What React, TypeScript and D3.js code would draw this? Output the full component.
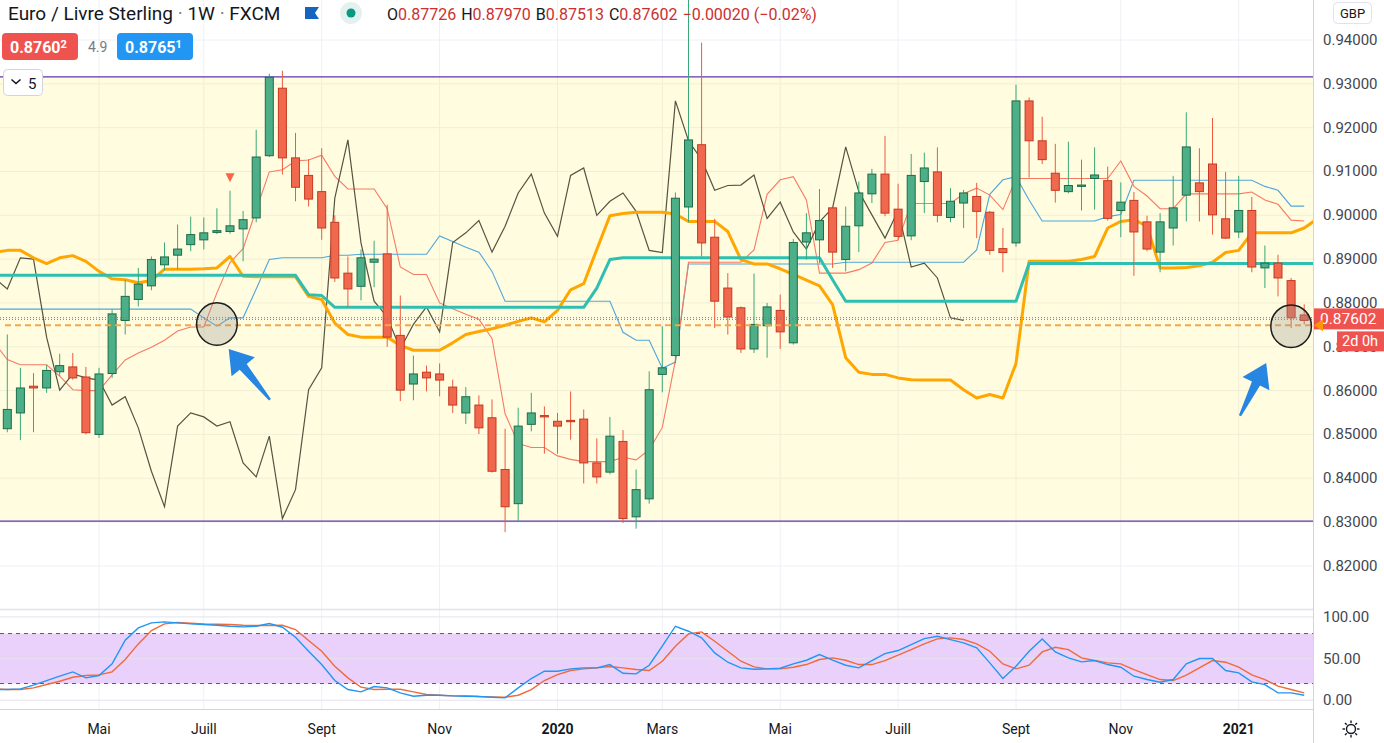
import React from "react";
import * as d3 from "d3";

// EUR/GBP weekly, FXCM.
const W = 1384;
const H = 743;
const PLOT_R = 1313;
const MAIN_BOTTOM = 609;
const SUB_TOP = 610;
const SUB_BOTTOM = 709;

const startDate = new Date(Date.UTC(2019, 2, 18)); // first visible weekly bar (Monday)

const opens = [
  0.8513, 0.8549, 0.861, 0.8606, 0.8643, 0.8654, 0.8631, 0.85, 0.8639, 0.876,
  0.8808, 0.8839, 0.8887, 0.8909, 0.8933, 0.8944, 0.8961, 0.8963, 0.8969, 0.8994,
  0.9136, 0.929, 0.9131, 0.9091, 0.9054, 0.8984, 0.8868, 0.8838, 0.8893, 0.8912,
  0.8726, 0.8615, 0.8642, 0.8638, 0.8608, 0.8549, 0.8567, 0.8538, 0.842, 0.8342,
  0.8523, 0.8543, 0.853, 0.8532, 0.8535, 0.8435, 0.8414, 0.8484, 0.8312, 0.8353,
  0.8637, 0.868, 0.9019, 0.9161, 0.895, 0.8834, 0.8789, 0.8695, 0.8748, 0.8783,
  0.8709, 0.8939, 0.8944, 0.9017, 0.8899, 0.8976, 0.9049, 0.9094, 0.9014, 0.8953,
  0.9077, 0.9099, 0.8995, 0.9028, 0.9043, 0.9007, 0.8924, 0.8937, 0.9261, 0.917,
  0.9096, 0.9054, 0.9066, 0.9084, 0.9079, 0.9011, 0.9034, 0.8985, 0.8916, 0.8971,
  0.9046, 0.9074, 0.9117, 0.8992, 0.8962, 0.9011, 0.888, 0.8891, 0.8851, 0.87726,
];
const highs = [
  0.8728, 0.8652, 0.864, 0.8659, 0.8684, 0.8686, 0.8654, 0.8652, 0.8785, 0.8853,
  0.888, 0.8906, 0.8938, 0.8979, 0.8997, 0.8995, 0.9016, 0.9056, 0.901, 0.9195,
  0.9323, 0.933, 0.9188, 0.9128, 0.9153, 0.9, 0.8906, 0.8922, 0.8942, 0.9024,
  0.8817, 0.868, 0.8657, 0.8662, 0.8625, 0.8608, 0.8589, 0.858, 0.8513, 0.8561,
  0.8595, 0.8564, 0.8549, 0.8598, 0.8557, 0.8491, 0.854, 0.851, 0.842, 0.8644,
  0.8747, 0.9052, 0.95, 0.9394, 0.8992, 0.8868, 0.8792, 0.8867, 0.88, 0.8819,
  0.8946, 0.9005, 0.906, 0.902, 0.902, 0.9077, 0.9106, 0.9181, 0.9072, 0.914,
  0.9143, 0.9155, 0.9062, 0.9058, 0.9074, 0.901, 0.8971, 0.9298, 0.9269, 0.9225,
  0.9163, 0.9168, 0.9127, 0.9155, 0.9111, 0.9075, 0.9053, 0.8999, 0.9005, 0.909,
  0.9235, 0.9153, 0.9222, 0.9099, 0.909, 0.9042, 0.8931, 0.891, 0.8857, 0.8797,
];
const lows = [
  0.8505, 0.8487, 0.8505, 0.8595, 0.8633, 0.8625, 0.85, 0.8492, 0.8629, 0.8728,
  0.8792, 0.8829, 0.8874, 0.8877, 0.8918, 0.8922, 0.8957, 0.8958, 0.8895, 0.8984,
  0.9133, 0.9093, 0.9032, 0.902, 0.8944, 0.8848, 0.8789, 0.8806, 0.8836, 0.87,
  0.8576, 0.8578, 0.8598, 0.8587, 0.8549, 0.8524, 0.8501, 0.8413, 0.8277, 0.8302,
  0.8507, 0.8456, 0.8456, 0.8488, 0.8388, 0.8388, 0.8409, 0.8298, 0.8285, 0.8342,
  0.8596, 0.8662, 0.8984, 0.8906, 0.8743, 0.8728, 0.8686, 0.8686, 0.8675, 0.8695,
  0.8705, 0.8899, 0.8891, 0.888, 0.8872, 0.8916, 0.9028, 0.8998, 0.8944, 0.8943,
  0.9005, 0.8984, 0.8984, 0.8971, 0.8948, 0.891, 0.887, 0.8928, 0.9086, 0.9117,
  0.9029, 0.905, 0.9011, 0.9013, 0.8988, 0.895, 0.8862, 0.8918, 0.887, 0.8931,
  0.8986, 0.8986, 0.8956, 0.8946, 0.8948, 0.887, 0.8834, 0.8815, 0.8743, 0.87513,
];
const closes = [
  0.8557, 0.8606, 0.8606, 0.8646, 0.8657, 0.8629, 0.8504, 0.8638, 0.8775, 0.8815,
  0.8843, 0.8899, 0.8905, 0.8923, 0.8956, 0.896, 0.8965, 0.8976, 0.899, 0.9133,
  0.9315, 0.9131, 0.9064, 0.9037, 0.8971, 0.8857, 0.8832, 0.8903, 0.89, 0.8722,
  0.8601, 0.8638, 0.8629, 0.8624, 0.8567, 0.8586, 0.8515, 0.8416, 0.8335, 0.8519,
  0.8549, 0.854, 0.8519, 0.8529, 0.8435, 0.8403, 0.8496, 0.8308, 0.8374, 0.8602,
  0.8652, 0.9039, 0.9172, 0.8937, 0.8804, 0.8768, 0.8695, 0.8751, 0.8791, 0.8734,
  0.8938, 0.896, 0.8988, 0.8916, 0.8975, 0.9051, 0.9094, 0.9005, 0.8952, 0.9091,
  0.9108, 0.9, 0.9032, 0.9051, 0.9009, 0.892, 0.8915, 0.9261, 0.917, 0.9127,
  0.9057, 0.9068, 0.9069, 0.9092, 0.8993, 0.903, 0.8962, 0.8923, 0.8985, 0.9017,
  0.9156, 0.9054, 0.9001, 0.8948, 0.9011, 0.8882, 0.8891, 0.8857, 0.8766, 0.87602,
];

// indicator series below start one bar before the first candle (index -1)
const tenkan = [
  0.8709, 0.8671, 0.8659, 0.8659, 0.8659, 0.8633, 0.8602, 0.86, 0.86, 0.8636, 0.867,
  0.8686, 0.8699, 0.8715, 0.8736, 0.8745, 0.8745, 0.8823, 0.8892, 0.8924, 0.9012,
  0.9099, 0.9104, 0.9124, 0.9126, 0.9137, 0.9089, 0.906, 0.906, 0.906, 0.9015,
  0.8882, 0.8865, 0.8865, 0.88, 0.8787, 0.8774, 0.8763, 0.8719, 0.8547, 0.8479,
  0.847, 0.847, 0.8451, 0.8443, 0.8438, 0.8438, 0.8438, 0.8448, 0.8442, 0.8465,
  0.8516, 0.8669, 0.8893, 0.8893, 0.8893, 0.8893, 0.8893, 0.8921, 0.9048, 0.9081,
  0.9088, 0.9035, 0.8868, 0.8868, 0.8868, 0.8876, 0.8891, 0.8938, 0.8943, 0.9027,
  0.9027, 0.9027, 0.9027, 0.9049, 0.9062, 0.9046, 0.9013, 0.9084, 0.9084, 0.9084,
  0.9084, 0.9084, 0.9084, 0.9084, 0.9084, 0.9124, 0.9066, 0.9044, 0.9015, 0.9015,
  0.9049, 0.9049, 0.9049, 0.9049, 0.9049, 0.9053, 0.9035, 0.9025, 0.8989, 0.8987,
];
const kijun = [
  0.8786, 0.8786, 0.8786, 0.8786, 0.8786, 0.8786, 0.8786, 0.8786, 0.8786, 0.8786, 0.8786,
  0.8786, 0.8786, 0.8786, 0.8786, 0.8786, 0.8766, 0.8747, 0.8766, 0.8766, 0.8832,
  0.8899, 0.8903, 0.8903, 0.8903, 0.8903, 0.8909, 0.8909, 0.8911, 0.8911, 0.8911,
  0.8911, 0.8911, 0.8911, 0.8953, 0.894, 0.8927, 0.8916, 0.8872, 0.8804, 0.8804,
  0.8804, 0.8804, 0.8804, 0.8804, 0.8804, 0.8804, 0.8804, 0.8733, 0.8715, 0.8715,
  0.8651, 0.8665, 0.8889, 0.8889, 0.8889, 0.8889, 0.8889, 0.8889, 0.8889, 0.8889,
  0.8889, 0.8889, 0.8889, 0.8889, 0.8893, 0.8893, 0.8893, 0.8893, 0.8893, 0.8893,
  0.8893, 0.8893, 0.8893, 0.8893, 0.8921, 0.9048, 0.9081, 0.9088, 0.9035, 0.8987,
  0.8987, 0.8987, 0.8987, 0.8987, 0.8997, 0.9002, 0.908, 0.908, 0.908, 0.908,
  0.908, 0.908, 0.908, 0.908, 0.908, 0.908, 0.9066, 0.9057, 0.9021, 0.9021,
];
// the two thick lines run one bar further, to the price scale
const orangeLine = [
  0.8915, 0.892, 0.892, 0.8903, 0.889, 0.8903, 0.8908, 0.8895, 0.8872, 0.8855, 0.8853,
  0.8846, 0.8851, 0.8877, 0.8877, 0.8877, 0.8878, 0.888, 0.8906, 0.8861, 0.886,
  0.886, 0.886, 0.886, 0.8815, 0.8808, 0.8754, 0.8728, 0.8722, 0.8722, 0.8722,
  0.8703, 0.8692, 0.8692, 0.8692, 0.8709, 0.8728, 0.8735, 0.8741, 0.8749, 0.8758,
  0.8766, 0.8757, 0.8783, 0.883, 0.8844, 0.8922, 0.8999, 0.9004, 0.9007, 0.9007,
  0.9007, 0.9003, 0.8986, 0.8986, 0.8986, 0.8963, 0.8899, 0.8889, 0.8889, 0.8878,
  0.8865, 0.8852, 0.8839, 0.8796, 0.8675, 0.8642, 0.8637, 0.8637, 0.8629, 0.8625,
  0.8624, 0.8624, 0.8624, 0.8602, 0.8583, 0.8591, 0.8583, 0.8662, 0.8895, 0.8895,
  0.8895, 0.8895, 0.8899, 0.8906, 0.8971, 0.8986, 0.899, 0.8975, 0.888, 0.888,
  0.8881, 0.8885, 0.8893, 0.8915, 0.892, 0.896, 0.896, 0.896, 0.896, 0.8971, 0.8992,
];
const tealLine = [
  0.8863, 0.8863, 0.8863, 0.8863, 0.8863, 0.8863, 0.8863, 0.8863, 0.8863, 0.8863, 0.8863,
  0.8863, 0.8863, 0.8863, 0.8863, 0.8863, 0.8863, 0.8863, 0.8863, 0.8863, 0.8863,
  0.8863, 0.8863, 0.8863, 0.8819, 0.8817, 0.879, 0.879, 0.879, 0.879, 0.879,
  0.879, 0.879, 0.879, 0.879, 0.879, 0.879, 0.879, 0.879, 0.879, 0.879,
  0.879, 0.879, 0.879, 0.879, 0.879, 0.8834, 0.8899, 0.8903, 0.8903, 0.8903,
  0.8903, 0.8903, 0.8903, 0.8903, 0.8903, 0.8903, 0.8903, 0.8903, 0.8903, 0.8903,
  0.8903, 0.8903, 0.8903, 0.8853, 0.8804, 0.8804, 0.8804, 0.8804, 0.8804, 0.8804,
  0.8804, 0.8804, 0.8804, 0.8804, 0.8804, 0.8804, 0.8804, 0.8804, 0.889, 0.889,
  0.889, 0.889, 0.889, 0.889, 0.889, 0.889, 0.889, 0.889, 0.889, 0.889,
  0.889, 0.889, 0.889, 0.889, 0.889, 0.889, 0.889, 0.889, 0.889, 0.889, 0.889,
];

const stochK = [
  12.8, 12.8, 13.6, 18, 23.6, 28.8, 34, 26.8, 29.6, 43.6, 72,
  86.8, 92.8, 94, 92.8, 91.6, 90.8, 90, 88.8, 88, 88.8,
  92, 87.6, 75.6, 58.8, 42.8, 23.6, 12.8, 10, 16.4, 14.8,
  8.8, 4.8, 6, 6, 5.2, 4.8, 4.4, 3.6, 2.8, 14.8,
  26, 34.8, 34.8, 37.6, 38.8, 38.8, 42.8, 32.4, 31.6, 42,
  64.8, 88.8, 82.8, 74.8, 56.8, 45.6, 38.8, 37.2, 37.6, 38.4,
  43.6, 48, 54.8, 48, 42, 38.8, 47.6, 56, 59.6, 66.8,
  74, 76.8, 72.8, 68.8, 62.8, 44.8, 26, 40.8, 58.8, 73.6,
  58, 50.8, 46, 47.6, 42.8, 39.6, 28.8, 24.8, 21.6, 24.8,
  43.6, 50, 50, 35.6, 32.8, 22, 18.8, 8.8, 8.8, 6,
];
const stochD = [
  13.6, 12.8, 12.8, 14.8, 18.8, 22.8, 27.6, 29.6, 30.4, 34, 48.8,
  67.6, 83.6, 91.6, 93.2, 92.4, 91.6, 91.2, 90.8, 90, 89.6,
  89.6, 90, 84.8, 71.6, 58.8, 40.8, 26.8, 15.6, 12.8, 13.2,
  13.2, 10, 6.8, 6, 5.2, 5.2, 4.4, 4, 3.6, 6,
  12.8, 23.6, 30.8, 35.6, 37.6, 38.8, 40.4, 38.8, 36.8, 35.6,
  46.8, 64.8, 79.6, 82, 70.8, 58.8, 46.8, 40, 37.6, 37.6,
  39.6, 42.8, 48.8, 50.8, 48, 42.8, 42.8, 47.6, 54, 60.8,
  67.6, 73.6, 74.8, 72.8, 67.6, 58.8, 43.6, 37.6, 42, 58,
  63.6, 60.8, 50.8, 47.6, 44.8, 43.6, 36.8, 30.8, 24.8, 23.6,
  30, 38.8, 47.6, 45.6, 39.6, 30.4, 24.8, 16.8, 12.8, 8.8,
];

const priceTicks = [0.82, 0.83, 0.84, 0.85, 0.86, 0.87, 0.88, 0.89, 0.9, 0.91, 0.92, 0.93, 0.94];
const stochTicks = [0, 50, 100];
const stochBand = [20, 80];
const monthNames: Record<number, string> = { 2: "Mars", 4: "Mai", 6: "Juill", 8: "Sept", 10: "Nov" };

const rangeBox = { top: 0.9316, bottom: 0.8302 };
const priceLevels = { bidDotted: 0.87665, askDotted: 0.87625, orangeDashed: 0.8749 };
const ellipses = [
  { i: 16, p: 0.8752 },
  { i: 98, p: 0.8747 },
];
const arrows = [
  { tip: [16.9, 0.8695], tail: [20.05, 0.8579] },
  { tip: [96.1, 0.8663], tail: [94.1, 0.85425] },
];
const signalBar = 17;

const FONT = "Roboto, 'Noto Sans', sans-serif";
const UP = { body: "#4caf87", border: "#1f6b48", wick: "#3aa877" };
const DOWN = { body: "#f0694f", border: "#c4391f", wick: "#ee5a40" };

const dates = opens.map((_, i) => d3.utcDay.offset(startDate, 7 * i));

const x = d3.scaleLinear().domain([0, 99]).range([7.3, 7.3 + 99 * 13.1]);
const y = d3.scaleLinear().domain([0.82, 0.94]).range([565.9, 40]);
const yS = d3.scaleLinear().domain([0, 100]).range([700.2, 616.9]);

// series that start at bar -1
const fromPrev = (vals: number[], scale: (v: number) => number) =>
  d3
    .line<number>()
    .x((_, k) => x(k - 1))
    .y((v) => scale(v))(vals) || "";

// lagging line: close plotted 26 bars back
const chikouPath =
  d3
    .line<number>()
    .x((_, k) => x(k + 25 - 26))
    .y((v) => y(v))(closes.slice(25)) || "";

const xTicks = dates
  .map((d, i) => ({ d, i }))
  .filter(({ d, i }) => i > 0 && d.getUTCMonth() !== dates[i - 1].getUTCMonth() && d.getUTCMonth() % 2 === 0)
  .map(({ d, i }) => ({
    i,
    label: d.getUTCMonth() === 0 ? String(d.getUTCFullYear()) : monthNames[d.getUTCMonth()],
    bold: d.getUTCMonth() === 0,
  }));

function arrowPoints(tip: number[], tail: number[]) {
  const tx = x(tip[0]), ty = y(tip[1]);
  const bx = x(tail[0]), by = y(tail[1]);
  const len = Math.hypot(tx - bx, ty - by);
  const ux = (tx - bx) / len, uy = (ty - by) / len;
  const nx = -uy, ny = ux;
  const headLen = 23, headHalf = 15, shaftTail = 1.2, shaftHead = 4.5;
  const hx = tx - ux * headLen, hy = ty - uy * headLen;
  const pts = [
    [bx + nx * shaftTail, by + ny * shaftTail],
    [hx + nx * shaftHead, hy + ny * shaftHead],
    [hx + nx * headHalf, hy + ny * headHalf],
    [tx, ty],
    [hx - nx * headHalf, hy - ny * headHalf],
    [hx - nx * shaftHead, hy - ny * shaftHead],
    [bx - nx * shaftTail, by - ny * shaftTail],
  ];
  return pts.map((p) => p.join(",")).join(" ");
}

function Candles() {
  return (
    <g>
      {opens.map((o, i) => {
        const c = closes[i];
        const col = c >= o ? UP : DOWN;
        const top = y(Math.max(o, c));
        const bot = y(Math.min(o, c));
        const cx = x(i);
        return (
          <g key={i}>
            <line x1={cx} x2={cx} y1={y(highs[i])} y2={y(lows[i])} stroke={col.wick} strokeWidth={1} />
            <rect
              x={cx - 4}
              y={top}
              width={8}
              height={Math.max(bot - top, 1.2)}
              fill={col.body}
              stroke={col.border}
              strokeWidth={1}
            />
          </g>
        );
      })}
    </g>
  );
}

function StochPane() {
  return (
    <g clipPath="url(#subClip)">
      <rect x={0} y={yS(stochBand[1])} width={PLOT_R} height={yS(stochBand[0]) - yS(stochBand[1])} fill="#ead1fb" />
      {stochTicks.map((t) => (
        <line key={t} x1={0} x2={PLOT_R} y1={yS(t)} y2={yS(t)} stroke="#e6e1ee" strokeWidth={1} />
      ))}
      {stochBand.map((t) => (
        <line key={t} x1={0} x2={PLOT_R} y1={yS(t)} y2={yS(t)} stroke="#5d5868" strokeWidth={1} strokeDasharray="4,4" />
      ))}
      <path d={fromPrev(stochD, yS)} fill="none" stroke="#f26937" strokeWidth={1.4} />
      <path d={fromPrev(stochK, yS)} fill="none" stroke="#2196f3" strokeWidth={1.4} />
    </g>
  );
}

function Header() {
  const red = "#cc2f2f";
  const dark = "#131722";
  return (
    <g fontFamily={FONT}>
      <text x={8} y={20} fontSize={19} fill={dark}>
        Euro / Livre Sterling <tspan fill="#787b86">·</tspan> 1W <tspan fill="#787b86">·</tspan> FXCM
      </text>
      <path d="M305,7 h14 l-4,6 l4,6 h-14 z" fill="#1565c0" />
      <circle cx={351} cy={13} r={11} fill="#e3f2ef" />
      <circle cx={351} cy={13} r={4.5} fill="#089981" />
      <text x={387} y={19.5} fontSize={16} fill={dark}>
        O<tspan fill={red}>0.87726</tspan>
        <tspan dx={5}>H</tspan>
        <tspan fill={red}>0.87970</tspan>
        <tspan dx={5}>B</tspan>
        <tspan fill={red}>0.87513</tspan>
        <tspan dx={5}>C</tspan>
        <tspan fill={red}>0.87602</tspan>
        <tspan dx={5} fill={red}>−0.00020 (−0.02%)</tspan>
      </text>
      <rect x={2} y={33} width={76} height={27} rx={4} fill="#ef5350" />
      <text x={10} y={52.5} fontSize={16} fontWeight="bold" fill="#fff">
        0.8760<tspan fontSize={11} dy={-5}>2</tspan>
      </text>
      <text x={88} y={51.5} fontSize={14} fill="#787b86">4.9</text>
      <rect x={117} y={33} width={76} height={27} rx={4} fill="#2196f3" />
      <text x={125} y={52.5} fontSize={16} fontWeight="bold" fill="#fff">
        0.8765<tspan fontSize={11} dy={-5}>1</tspan>
      </text>
      <rect x={3.5} y={69.5} width={39} height={26} rx={4} fill="#fff" stroke="#d1d4dc" />
      <path d="M11.5,79.5 l4.5,4 l4.5,-4" fill="none" stroke={dark} strokeWidth={1.6} />
      <text x={28} y={88.5} fontSize={15} fill={dark}>5</text>
    </g>
  );
}

function PriceAxis() {
  const last = closes[closes.length - 1];
  const ly = y(last) - 1.5;
  return (
    <g fontFamily={FONT}>
      <rect x={PLOT_R} y={0} width={W - PLOT_R} height={H} fill="#fff" />
      <line x1={PLOT_R + 0.5} x2={PLOT_R + 0.5} y1={0} y2={H} stroke="#d1d4dc" />
      {priceTicks.map((t) => (
        <text key={t} x={1323} y={y(t) + 5} fontSize={15} fill="#434651">
          {t.toFixed(5)}
        </text>
      ))}
      {stochTicks.map((t) => (
        <text key={t} x={1323} y={yS(t) + 5} fontSize={15} fill="#434651">
          {t.toFixed(2)}
        </text>
      ))}
      <rect x={PLOT_R + 1} y={ly - 10.5} width={W - PLOT_R} height={21} fill="#ef5350" />
      <text x={1320} y={ly + 5.5} fontSize={15.5} fill="#fff">
        {last.toFixed(5)}
      </text>
      <rect x={1337} y={ly + 12.5} width={47} height={20} fill="#ef5350" />
      <text x={1342} y={ly + 27.5} fontSize={14.5} fill="#fff">
        2d 0h
      </text>
      <path
        d={`M${PLOT_R + 1},${y(priceLevels.orangeDashed)} l9,-6 v12 z`}
        fill="#ff9800"
      />
      <rect x={1333.5} y={2.5} width={38} height={21} rx={4} fill="#fff" stroke="#e0e3eb" />
      <text x={1352.5} y={17.5} fontSize={13} textAnchor="middle" fill="#131722">
        GBP
      </text>
      <g transform="translate(1351,729)" stroke="#131722" strokeWidth={1.4} fill="none">
        <circle r={4.5} />
        {d3.range(8).map((k) => {
          const a = (k * Math.PI) / 4;
          return <line key={k} x1={Math.cos(a) * 6} y1={Math.sin(a) * 6} x2={Math.cos(a) * 8.5} y2={Math.sin(a) * 8.5} />;
        })}
      </g>
    </g>
  );
}

export default function App() {
  const boxY0 = y(rangeBox.top);
  const boxY1 = y(rangeBox.bottom);
  return (
    <div style={{ position: "absolute", left: 0, top: 0, width: W, height: H, background: "#fff" }}>
      <svg width={W} height={H} viewBox={`0 0 ${W} ${H}`} style={{ display: "block" }}>
        <defs>
          <clipPath id="mainClip">
            <rect x={0} y={0} width={PLOT_R} height={MAIN_BOTTOM} />
          </clipPath>
          <clipPath id="subClip">
            <rect x={0} y={SUB_TOP} width={PLOT_R} height={SUB_BOTTOM - SUB_TOP} />
          </clipPath>
        </defs>
        <rect x={0} y={0} width={W} height={H} fill="#fff" />

        {/* grid */}
        {xTicks.map((t) => (
          <line key={t.i} x1={x(t.i)} x2={x(t.i)} y1={0} y2={SUB_BOTTOM} stroke="#eef0f5" strokeWidth={1} />
        ))}
        {priceTicks.map((t) => (
          <line key={t} x1={0} x2={PLOT_R} y1={y(t)} y2={y(t)} stroke="#eef0f5" strokeWidth={1} />
        ))}

        <g clipPath="url(#mainClip)">
          <rect x={0} y={boxY0} width={PLOT_R} height={boxY1 - boxY0} fill="rgba(255,235,59,0.16)" />
          <line x1={0} x2={PLOT_R} y1={boxY0} y2={boxY0} stroke="#5e35b1" strokeWidth={1.2} />
          <line x1={0} x2={PLOT_R} y1={boxY1} y2={boxY1} stroke="#5e35b1" strokeWidth={1.2} />

          <path d={fromPrev(kijun, y)} fill="none" stroke="#4ea6dc" strokeWidth={1.1} />
          <path d={fromPrev(tenkan, y)} fill="none" stroke="#f77a65" strokeWidth={1.1} />
          <path d={chikouPath} fill="none" stroke="#545442" strokeWidth={1.2} />
          <path d={fromPrev(orangeLine, y)} fill="none" stroke="#ffa600" strokeWidth={3} strokeLinejoin="round" />
          <path d={fromPrev(tealLine, y)} fill="none" stroke="#2fbfb1" strokeWidth={3} strokeLinejoin="round" />

          <Candles />

          <path
            d={`M${x(signalBar) - 4.5},${y(highs[signalBar]) - 17.5} h9 l-4.5,9 z`}
            fill="#f7654a"
          />

          <line x1={0} x2={PLOT_R} y1={y(priceLevels.bidDotted)} y2={y(priceLevels.bidDotted)} stroke="#ef5350" strokeDasharray="1,2" />
          <line x1={0} x2={PLOT_R} y1={y(priceLevels.askDotted)} y2={y(priceLevels.askDotted)} stroke="#2196f3" strokeDasharray="1,2" />
          <line
            x1={5}
            x2={PLOT_R}
            y1={y(priceLevels.orangeDashed)}
            y2={y(priceLevels.orangeDashed)}
            stroke="#f7a54a"
            strokeWidth={2}
            strokeDasharray="6,4"
          />

          {ellipses.map((e, k) => (
            <ellipse key={k} cx={x(e.i)} cy={y(e.p)} rx={20.3} ry={21.3} fill="rgba(150,150,150,0.3)" stroke="#1c1c1c" strokeWidth={1.5} />
          ))}
          {arrows.map((a, k) => (
            <polygon key={k} points={arrowPoints(a.tip, a.tail)} fill="#2686e2" />
          ))}
        </g>

        <line x1={0} x2={PLOT_R} y1={SUB_TOP - 0.5} y2={SUB_TOP - 0.5} stroke="#e0e3eb" strokeWidth={1.5} />
        <StochPane />
        <line x1={0} x2={PLOT_R} y1={SUB_BOTTOM + 0.5} y2={SUB_BOTTOM + 0.5} stroke="#d1d4dc" />

        <g fontFamily={FONT}>
          {xTicks.map((t) => (
            <text
              key={t.i}
              x={x(t.i)}
              y={734}
              fontSize={14}
              fontWeight={t.bold ? "bold" : "normal"}
              textAnchor="middle"
              fill="#131722"
            >
              {t.label}
            </text>
          ))}
        </g>

        <PriceAxis />
        <Header />
      </svg>
    </div>
  );
}
